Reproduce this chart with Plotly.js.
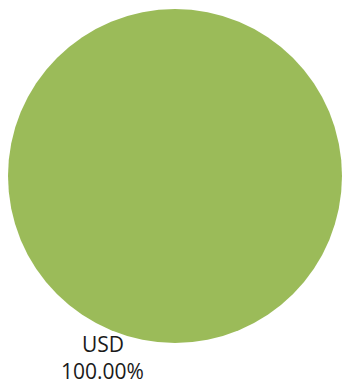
<!DOCTYPE html>
<html>
<head>
<meta charset="utf-8">
<script src="https://cdn.plot.ly/plotly-3.0.1.min.js"></script>
<style>html,body{margin:0;padding:0;background:#fff;}#chart{width:342px;height:387px;}</style>
</head>
<body>
<div id="chart"></div>
<script>
const labels = ["USD"];
const values = [100];
const colors = ["#9BBB59"];

const total = values.reduce((a, b) => a + b, 0);
const W = 342, H = 387;
const cx = 175, cy = 176, r = 167;

const trace = {
  type: "pie",
  labels: labels,
  values: values,
  marker: {colors: colors, line: {width: 0}},
  textinfo: "none",
  hoverinfo: "none",
  sort: false,
  showlegend: false,
  domain: {
    x: [(cx - r) / W, (cx + r) / W],
    y: [1 - (cy + r) / H, 1 - (cy - r) / H]
  }
};

const font = {family: "Open Sans, Liberation Sans, sans-serif", size: 21, color: "#1a1a1a"};
const annotations = [];
labels.forEach((l, i) => {
  annotations.push({
    text: l, x: 103 / W, y: 1 - 344 / H,
    xref: "paper", yref: "paper", xanchor: "center", yanchor: "middle",
    showarrow: false, borderpad: 0, font: font
  });
  annotations.push({
    text: (values[i] / total * 100).toFixed(2) + "%", x: 102 / W, y: 0.002,
    xref: "paper", yref: "paper", xanchor: "center", yanchor: "bottom",
    showarrow: false, borderpad: 0, font: font
  });
});

Plotly.newPlot("chart", [trace], {
  width: W, height: H,
  margin: {l: 0, r: 0, t: 0, b: 0},
  paper_bgcolor: "#ffffff",
  annotations: annotations
}, {staticPlot: true});
</script>
</body>
</html>
